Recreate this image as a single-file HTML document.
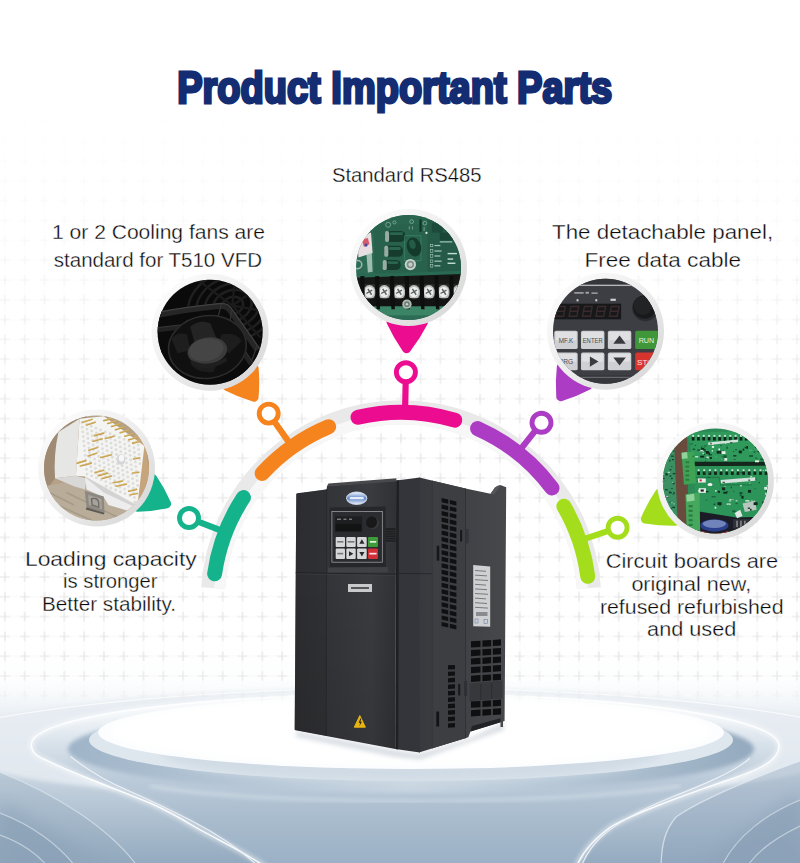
<!DOCTYPE html>
<html lang="en"><head><meta charset="utf-8"><title>Product Important Parts</title>
<style>
html,body{margin:0;padding:0;background:#fff;}
body{width:800px;height:863px;overflow:hidden;font-family:"Liberation Sans",sans-serif;}
svg{display:block;}
.lbl{font-family:"Liberation Sans",sans-serif;font-size:20.5px;fill:#0a0a0a;stroke:#ffffff;stroke-width:0.32;paint-order:fill stroke;}
.ttl{font-family:"Liberation Sans",sans-serif;font-weight:bold;fill:#132c72;stroke:#132c72;stroke-width:3;stroke-linejoin:miter;}
</style></head><body>
<svg width="800" height="863" viewBox="0 0 800 863">
<defs>
<pattern id="grid" x="-5" y="-7.1" width="19.8" height="19.8" patternUnits="userSpaceOnUse">
<path d="M9.9 0V19.8M0 9.9H19.8" stroke="#f9f9f9" stroke-width="1" fill="none"/>
<path d="M9.9 5.1V14.7M5.1 9.9H14.7" stroke="#e5e5e5" stroke-width="1.2" fill="none"/>
</pattern>
<linearGradient id="gfade" x1="0" y1="0" x2="0" y2="1">
<stop offset="0" stop-color="#fff" stop-opacity="0"/>
<stop offset="0.12" stop-color="#fff" stop-opacity="0"/>
<stop offset="0.29" stop-color="#fff" stop-opacity="0.3"/>
<stop offset="0.40" stop-color="#fff" stop-opacity="0.7"/>
<stop offset="0.50" stop-color="#fff" stop-opacity="1"/>
<stop offset="0.775" stop-color="#fff" stop-opacity="1"/>
<stop offset="0.797" stop-color="#fff" stop-opacity="0.75"/>
<stop offset="0.818" stop-color="#fff" stop-opacity="0"/>
</linearGradient>
<mask id="gmask"><rect width="800" height="863" fill="url(#gfade)"/></mask>
<linearGradient id="floor" x1="0" y1="0" x2="0" y2="1">
<stop offset="0" stop-color="#ffffff" stop-opacity="0"/>
<stop offset="0.18" stop-color="#eef2f6"/>
<stop offset="0.45" stop-color="#cfdae5"/>
<stop offset="0.75" stop-color="#a9b9c9"/>
<stop offset="1" stop-color="#8ea2b6"/>
</linearGradient>
<radialGradient id="plat" cx="0.5" cy="0.5" r="0.5">
<stop offset="0" stop-color="#fff" stop-opacity="1"/>
<stop offset="0.7" stop-color="#fff" stop-opacity="0.97"/>
<stop offset="1" stop-color="#fff" stop-opacity="0.75"/>
</radialGradient>
<filter id="b2"><feGaussianBlur stdDeviation="2"/></filter>
<filter id="b4"><feGaussianBlur stdDeviation="4"/></filter>
<filter id="b8"><feGaussianBlur stdDeviation="8"/></filter>
<linearGradient id="ring" x1="0" y1="0" x2="1" y2="1">
<stop offset="0.1" stop-color="#fcfcfc"/>
<stop offset="0.5" stop-color="#ededed"/>
<stop offset="0.95" stop-color="#d6d6d6"/>
</linearGradient>

</defs>
<rect width="800" height="863" fill="#fff"/>
<defs>
<linearGradient id="flbase" x1="0" y1="0" x2="0" y2="1">
<stop offset="0" stop-color="#f4f7fa" stop-opacity="0"/>
<stop offset="0.17" stop-color="#f4f7fa" stop-opacity="0.15"/>
<stop offset="0.26" stop-color="#f1f5f8" stop-opacity="0.7"/>
<stop offset="0.33" stop-color="#eaeff4"/>
<stop offset="0.48" stop-color="#dae3eb"/>
<stop offset="0.70" stop-color="#bccbd9"/>
<stop offset="1" stop-color="#94aabf"/>
</linearGradient>
<linearGradient id="flin" x1="0" y1="0" x2="0" y2="1">
<stop offset="0" stop-color="#f9fbfc"/>
<stop offset="0.14" stop-color="#eff3f7"/>
<stop offset="0.30" stop-color="#d6e0e9"/>
<stop offset="0.48" stop-color="#bccbda"/>
<stop offset="0.70" stop-color="#a9bccd"/>
<stop offset="1" stop-color="#99afc4"/>
</linearGradient>
<linearGradient id="flband" x1="0" y1="0" x2="1" y2="0">
<stop offset="0" stop-color="#9fb4c8"/><stop offset="0.22" stop-color="#b3c4d4"/><stop offset="0.5" stop-color="#c8d5e1"/><stop offset="0.78" stop-color="#b0c2d2"/><stop offset="1" stop-color="#93a9be"/>
</linearGradient>
<clipPath id="flclip"><rect x="0" y="640" width="800" height="223"/></clipPath>
</defs>
<g clip-path="url(#flclip)">
<rect x="0" y="640" width="800" height="223" fill="url(#flbase)"/>
<path d="M0,800L110,863H0Z" fill="#8aa0b6" opacity="0.55" filter="url(#b8)"/>
<path d="M800,790L700,863H800Z" fill="#8aa0b6" opacity="0.55" filter="url(#b8)"/>
<ellipse cx="402" cy="745" rx="460" ry="57" fill="#e6ecf2" opacity="0.85" filter="url(#b2)"/>
<path d="M-10,719C120,696 280,688 402,688C530,688 690,696 810,719" fill="none" stroke="#fff" stroke-width="1.2" opacity="0.7"/>
<path d="M406,694C200,694 31.5,716 31.5,744.5C31.5,752 36,756 45,759.5C60,767 75,773 90,779C112,788 130,795 150,803C168,811 182,819 195,827C222,842 248,854 270,870L575,870C582,851 595,838 612,826C640,811 680,797 725,781C755,771 779,762 779,746C779,716 612,694 406,694Z" fill="url(#flin)"/>
<path d="M406,694C200,694 31.5,716 31.5,744.5C31.5,752 36,756 45,759.5C60,767 75,773 90,779C112,788 130,795 150,803C168,811 182,819 195,827C222,842 248,854 270,870L575,870C582,851 595,838 612,826C640,811 680,797 725,781C755,771 779,762 779,746C779,716 612,694 406,694Z" fill="none" stroke="#ffffff" stroke-width="5" opacity="0.5" filter="url(#b2)"/>
<path d="M406,694C200,694 31.5,716 31.5,744.5C31.5,752 36,756 45,759.5C60,767 75,773 90,779C112,788 130,795 150,803C168,811 182,819 195,827C222,842 248,854 270,870L575,870C582,851 595,838 612,826C640,811 680,797 725,781C755,771 779,762 779,746C779,716 612,694 406,694Z" fill="none" stroke="#ffffff" stroke-width="1.4" opacity="0.9"/>
<ellipse cx="411" cy="749" rx="343" ry="44" fill="url(#flband)" filter="url(#b2)"/>
<path d="M70.5,756.5C90,772 110,783 129,791C150,800 172,811 192,821C215,833 240,848 262,870" fill="none" stroke="#eef3f7" stroke-width="1.2" opacity="0.9"/>
<path d="M750,758C735,772 700,786 672,797C640,810 615,824 600,838C590,848 584,858 580,870" fill="none" stroke="#eef3f7" stroke-width="1.2" opacity="0.9"/>
<ellipse cx="411" cy="740" rx="322" ry="41" fill="#dfe7ee"/>
<ellipse cx="411" cy="752" rx="250" ry="30" fill="#d0dbe5" filter="url(#b4)"/>
<ellipse cx="411" cy="732.5" rx="313" ry="36.5" fill="#fcfdfe"/>
<ellipse cx="411" cy="731" rx="300" ry="33" fill="#ffffff" filter="url(#b2)"/>
<path d="M150,786C260,806 560,806 680,786" fill="none" stroke="#e4ecf2" stroke-width="2" opacity="0.8" filter="url(#b2)"/>
<path d="M800,761C760,775 700,800 676,817C665,830 661,845 661,870L800,870Z" fill="#8ea4ba" opacity="0.38"/>
<path d="M800,761C760,775 700,800 676,817C665,830 661,845 661,870" fill="none" stroke="#e6edf3" stroke-width="1.3" opacity="0.7"/>
<path d="M800,800C770,812 735,835 720,870L800,870Z" fill="#889eb5" opacity="0.4"/>
<path d="M800,800C770,812 735,835 720,870M800,826C775,838 755,852 745,870" fill="none" stroke="#d5e0ea" stroke-width="1.2" opacity="0.7"/>
<path d="M0,772C50,792 110,826 140,870L0,870Z" fill="#8ea4ba" opacity="0.3"/>
<path d="M0,772C50,792 110,826 140,870" fill="none" stroke="#e6edf3" stroke-width="1.2" opacity="0.6"/>
<path d="M0,813C30,824 60,845 78,870L0,870Z" fill="#889eb5" opacity="0.4"/>
<path d="M0,813C30,824 60,845 78,870M0,835C20,842 40,855 50,870" fill="none" stroke="#d5e0ea" stroke-width="1.2" opacity="0.7"/>
</g>
<rect width="800" height="863" fill="url(#grid)" mask="url(#gmask)"/>
<path d="M213.11,588.12A188.30,188.30 0 0 1 588.89,588.12" fill="none" stroke="#e9e9e9" stroke-width="24" stroke-linecap="butt"/>
<path d="M219.60,588.55A181.80,181.80 0 0 1 582.40,588.55" fill="none" stroke="#f7f7f7" stroke-width="11" stroke-linecap="butt"/>
<path d="M214.63,573.74A188.30,188.30 0 0 1 243.44,497.49" fill="none" stroke="#14b38b" stroke-width="15" stroke-linecap="round"/>
<path d="M197.39,521.27L225.55,532.24" stroke="#14b38b" stroke-width="6.2" fill="none"/>
<circle cx="189.00" cy="518.00" r="9.5" fill="#fff" stroke="#14b38b" stroke-width="4.9"/>
<path d="M136.59,488.45L137.83,507.26Q151.48,506.93 166.59,503.76Q160.29,489.66 152.54,478.41Z" fill="#14b38b" stroke="#14b38b" stroke-width="9.0" stroke-linejoin="round"/>
<path d="M262.17,473.39A188.30,188.30 0 0 1 328.64,426.76" fill="none" stroke="#f5841f" stroke-width="15" stroke-linecap="round"/>
<path d="M273.90,420.95L292.25,446.88" stroke="#f5841f" stroke-width="6.2" fill="none"/>
<circle cx="268.70" cy="413.60" r="9.5" fill="#fff" stroke="#f5841f" stroke-width="4.9"/>
<path d="M235.30,369.48L227.29,386.55Q239.36,392.80 254.08,397.27Q255.42,381.95 254.12,368.42Z" fill="#f5841f" stroke="#f5841f" stroke-width="9.0" stroke-linejoin="round"/>
<path d="M358.00,417.28A188.30,188.30 0 0 1 454.80,420.15" fill="none" stroke="#ec0c8f" stroke-width="15" stroke-linecap="round"/>
<path d="M405.71,381.25L405.04,412.34" stroke="#ec0c8f" stroke-width="6.2" fill="none"/>
<circle cx="405.90" cy="372.25" r="9.5" fill="#fff" stroke="#ec0c8f" stroke-width="4.9"/>
<path d="M407.40,312.39L390.98,321.64Q397.14,335.13 406.51,348.70Q416.53,335.61 423.35,322.43Z" fill="#ec0c8f" stroke="#ec0c8f" stroke-width="9.0" stroke-linejoin="round"/>
<path d="M477.59,428.58A188.30,188.30 0 0 1 551.97,488.07" fill="none" stroke="#ad3cc4" stroke-width="15" stroke-linecap="round"/>
<path d="M535.92,429.86L517.75,452.86" stroke="#ad3cc4" stroke-width="6.2" fill="none"/>
<circle cx="541.50" cy="422.80" r="9.5" fill="#fff" stroke="#ad3cc4" stroke-width="4.9"/>
<path d="M580.11,368.35L561.29,367.18Q559.70,381.03 560.74,396.68Q575.70,391.97 588.02,385.46Z" fill="#ad3cc4" stroke="#ad3cc4" stroke-width="9.0" stroke-linejoin="round"/>
<path d="M563.91,506.17A188.30,188.30 0 0 1 587.73,576.35" fill="none" stroke="#a3dd1c" stroke-width="15" stroke-linecap="round"/>
<path d="M609.07,530.67L579.49,540.61" stroke="#a3dd1c" stroke-width="6.2" fill="none"/>
<circle cx="617.60" cy="527.80" r="9.5" fill="#fff" stroke="#a3dd1c" stroke-width="4.9"/>
<path d="M675.86,502.48L659.65,492.86Q651.74,504.55 645.35,519.05Q660.99,521.59 675.10,521.31Z" fill="#a3dd1c" stroke="#a3dd1c" stroke-width="9.0" stroke-linejoin="round"/>
<circle cx="96.5" cy="468" r="58.5" fill="url(#ring)"/>
<clipPath id="cp0"><circle cx="96.5" cy="468" r="52.5"/></clipPath>
<circle cx="210.1" cy="332.2" r="58.5" fill="url(#ring)"/>
<clipPath id="cp1"><circle cx="210.1" cy="332.2" r="52.5"/></clipPath>
<circle cx="408.5" cy="267.4" r="58.5" fill="url(#ring)"/>
<clipPath id="cp2"><circle cx="408.5" cy="267.4" r="52.5"/></clipPath>
<circle cx="605.5" cy="331.2" r="58.5" fill="url(#ring)"/>
<clipPath id="cp3"><circle cx="605.5" cy="331.2" r="52.5"/></clipPath>
<circle cx="715.4" cy="481" r="58.5" fill="url(#ring)"/>
<clipPath id="cp4"><circle cx="715.4" cy="481" r="52.5"/></clipPath>
<g clip-path="url(#cp0)"><g transform="translate(35,405) scale(0.15625)">
<rect x="0" y="0" width="800" height="800" fill="#b4a188"/>
<path d="M0,0H330V200L60,560L0,600Z" fill="#9f8a73"/>
<path d="M60,520L330,470L800,700V800H60Z" fill="#b9ad9a"/>
<path d="M100,620L500,800M60,700L300,800M200,560L700,800M90,560L250,640" stroke="#9a8f7f" stroke-width="10" fill="none" opacity="0.6"/>
<path d="M640,60L800,200V640L640,620Z" fill="#c6a57c"/>
<path d="M690,100L760,600M730,120L790,500" stroke="#b08c62" stroke-width="8" opacity="0.7"/>
<path d="M150,172L285,88L262,452L128,468Q118,320 150,172Z" fill="#e6e6e4"/>
<path d="M128,468L262,452L330,470L320,540L250,520Z" fill="#d8d8d6"/>
<path d="M285,88L440,72L700,262L655,645L320,458L262,452Z" fill="#f4f4f2"/>
<path d="M320,458L655,645L640,690L470,640L440,590L330,540Z" fill="#ecedec"/>
<path d="M320,458L330,470L440,560L655,660L655,645Z" fill="#d2d3d2"/>
<g fill="#dcdcda"><circle cx="300" cy="112" r="9"/><circle cx="330" cy="124" r="9"/><circle cx="360" cy="136" r="9"/><circle cx="390" cy="148" r="9"/><circle cx="420" cy="160" r="9"/><circle cx="450" cy="172" r="9"/><circle cx="480" cy="184" r="9"/><circle cx="510" cy="196" r="9"/><circle cx="540" cy="208" r="9"/><circle cx="570" cy="220" r="9"/><circle cx="600" cy="232" r="9"/><circle cx="630" cy="244" r="9"/><circle cx="660" cy="256" r="9"/><circle cx="303" cy="142" r="9"/><circle cx="333" cy="154" r="9"/><circle cx="363" cy="166" r="9"/><circle cx="393" cy="178" r="9"/><circle cx="423" cy="190" r="9"/><circle cx="453" cy="202" r="9"/><circle cx="483" cy="214" r="9"/><circle cx="513" cy="226" r="9"/><circle cx="543" cy="238" r="9"/><circle cx="573" cy="250" r="9"/><circle cx="603" cy="262" r="9"/><circle cx="633" cy="274" r="9"/><circle cx="663" cy="286" r="9"/><circle cx="306" cy="172" r="9"/><circle cx="336" cy="184" r="9"/><circle cx="366" cy="196" r="9"/><circle cx="396" cy="208" r="9"/><circle cx="426" cy="220" r="9"/><circle cx="456" cy="232" r="9"/><circle cx="486" cy="244" r="9"/><circle cx="516" cy="256" r="9"/><circle cx="546" cy="268" r="9"/><circle cx="576" cy="280" r="9"/><circle cx="606" cy="292" r="9"/><circle cx="636" cy="304" r="9"/><circle cx="666" cy="316" r="9"/><circle cx="309" cy="202" r="9"/><circle cx="339" cy="214" r="9"/><circle cx="369" cy="226" r="9"/><circle cx="399" cy="238" r="9"/><circle cx="429" cy="250" r="9"/><circle cx="459" cy="262" r="9"/><circle cx="489" cy="274" r="9"/><circle cx="519" cy="286" r="9"/><circle cx="549" cy="298" r="9"/><circle cx="579" cy="310" r="9"/><circle cx="609" cy="322" r="9"/><circle cx="639" cy="334" r="9"/><circle cx="669" cy="346" r="9"/><circle cx="312" cy="232" r="9"/><circle cx="342" cy="244" r="9"/><circle cx="372" cy="256" r="9"/><circle cx="402" cy="268" r="9"/><circle cx="432" cy="280" r="9"/><circle cx="462" cy="292" r="9"/><circle cx="492" cy="304" r="9"/><circle cx="522" cy="316" r="9"/><circle cx="552" cy="328" r="9"/><circle cx="582" cy="340" r="9"/><circle cx="612" cy="352" r="9"/><circle cx="642" cy="364" r="9"/><circle cx="672" cy="376" r="9"/><circle cx="315" cy="262" r="9"/><circle cx="345" cy="274" r="9"/><circle cx="375" cy="286" r="9"/><circle cx="405" cy="298" r="9"/><circle cx="435" cy="310" r="9"/><circle cx="465" cy="322" r="9"/><circle cx="495" cy="334" r="9"/><circle cx="525" cy="346" r="9"/><circle cx="555" cy="358" r="9"/><circle cx="585" cy="370" r="9"/><circle cx="615" cy="382" r="9"/><circle cx="645" cy="394" r="9"/><circle cx="318" cy="292" r="9"/><circle cx="348" cy="304" r="9"/><circle cx="378" cy="316" r="9"/><circle cx="408" cy="328" r="9"/><circle cx="438" cy="340" r="9"/><circle cx="468" cy="352" r="9"/><circle cx="498" cy="364" r="9"/><circle cx="528" cy="376" r="9"/><circle cx="558" cy="388" r="9"/><circle cx="588" cy="400" r="9"/><circle cx="618" cy="412" r="9"/><circle cx="648" cy="424" r="9"/><circle cx="321" cy="322" r="9"/><circle cx="351" cy="334" r="9"/><circle cx="381" cy="346" r="9"/><circle cx="411" cy="358" r="9"/><circle cx="441" cy="370" r="9"/><circle cx="471" cy="382" r="9"/><circle cx="501" cy="394" r="9"/><circle cx="531" cy="406" r="9"/><circle cx="561" cy="418" r="9"/><circle cx="591" cy="430" r="9"/><circle cx="621" cy="442" r="9"/><circle cx="651" cy="454" r="9"/><circle cx="324" cy="352" r="9"/><circle cx="354" cy="364" r="9"/><circle cx="384" cy="376" r="9"/><circle cx="414" cy="388" r="9"/><circle cx="444" cy="400" r="9"/><circle cx="474" cy="412" r="9"/><circle cx="504" cy="424" r="9"/><circle cx="534" cy="436" r="9"/><circle cx="564" cy="448" r="9"/><circle cx="594" cy="460" r="9"/><circle cx="624" cy="472" r="9"/><circle cx="654" cy="484" r="9"/><circle cx="327" cy="382" r="9"/><circle cx="357" cy="394" r="9"/><circle cx="387" cy="406" r="9"/><circle cx="417" cy="418" r="9"/><circle cx="447" cy="430" r="9"/><circle cx="477" cy="442" r="9"/><circle cx="507" cy="454" r="9"/><circle cx="537" cy="466" r="9"/><circle cx="567" cy="478" r="9"/><circle cx="597" cy="490" r="9"/><circle cx="627" cy="502" r="9"/><circle cx="657" cy="514" r="9"/><circle cx="330" cy="412" r="9"/><circle cx="360" cy="424" r="9"/><circle cx="390" cy="436" r="9"/><circle cx="420" cy="448" r="9"/><circle cx="450" cy="460" r="9"/><circle cx="480" cy="472" r="9"/><circle cx="510" cy="484" r="9"/><circle cx="540" cy="496" r="9"/><circle cx="570" cy="508" r="9"/><circle cx="600" cy="520" r="9"/><circle cx="630" cy="532" r="9"/><circle cx="333" cy="442" r="9"/><circle cx="363" cy="454" r="9"/><circle cx="393" cy="466" r="9"/><circle cx="423" cy="478" r="9"/><circle cx="453" cy="490" r="9"/><circle cx="483" cy="502" r="9"/><circle cx="513" cy="514" r="9"/><circle cx="543" cy="526" r="9"/><circle cx="573" cy="538" r="9"/><circle cx="603" cy="550" r="9"/><circle cx="633" cy="562" r="9"/><circle cx="456" cy="520" r="9"/><circle cx="486" cy="532" r="9"/><circle cx="516" cy="544" r="9"/><circle cx="546" cy="556" r="9"/><circle cx="576" cy="568" r="9"/><circle cx="606" cy="580" r="9"/><circle cx="636" cy="592" r="9"/><circle cx="639" cy="622" r="9"/></g>
<ellipse cx="550" cy="348" rx="27" ry="34" fill="#d3d4d6"/><ellipse cx="553" cy="340" rx="17" ry="22" fill="#f7f7f7"/>
<g stroke="#c29a45" stroke-width="10" stroke-linecap="round"><path d="M305,110L365,92"/><path d="M330,128L385,110"/><path d="M440,100L490,88"/><path d="M465,118L520,104"/><path d="M490,138L545,122"/><path d="M515,158L570,142"/><path d="M545,178L600,162"/><path d="M575,200L630,184"/><path d="M600,222L655,208"/><path d="M625,244L670,234"/><path d="M380,196L440,180"/><path d="M372,232L430,216"/><path d="M450,214L505,200"/><path d="M345,290L400,272"/><path d="M340,326L395,308"/><path d="M270,372L325,356"/><path d="M290,390L360,372"/><path d="M420,336L490,318"/><path d="M385,432L440,418"/><path d="M405,452L465,436"/><path d="M430,470L490,454"/><path d="M500,498L560,486"/><path d="M520,520L585,506"/><path d="M600,552L650,540"/><path d="M610,575L655,566"/><path d="M630,345L670,338"/><path d="M625,435L665,430"/></g>
<g stroke="#e9d28e" stroke-width="3" stroke-linecap="round"><path d="M305,107L365,89"/><path d="M330,125L385,107"/><path d="M440,97L490,85"/><path d="M465,115L520,101"/><path d="M490,135L545,119"/><path d="M515,155L570,139"/><path d="M545,175L600,159"/><path d="M575,197L630,181"/><path d="M600,219L655,205"/><path d="M625,241L670,231"/><path d="M380,193L440,177"/><path d="M372,229L430,213"/><path d="M450,211L505,197"/><path d="M345,287L400,269"/><path d="M340,323L395,305"/><path d="M270,369L325,353"/><path d="M290,387L360,369"/><path d="M420,333L490,315"/><path d="M385,429L440,415"/><path d="M405,449L465,433"/><path d="M430,467L490,451"/><path d="M500,495L560,483"/><path d="M520,517L585,503"/><path d="M600,549L650,537"/><path d="M610,572L655,563"/><path d="M630,342L670,335"/><path d="M625,432L665,427"/></g>
<path d="M318,548L440,585L445,690L330,655Z" fill="#8d8982"/>
<path d="M340,575L425,602L428,668L345,640Z" fill="#a7a39b"/>
<path d="M362,600Q400,590 408,625L408,655L365,640Z" fill="none" stroke="#6e6a64" stroke-width="9"/>
<path d="M330,655L445,690L440,700L325,668Z" fill="#5e5a54"/>
</g></g>
<g clip-path="url(#cp1)"><g transform="translate(148,272) scale(0.15625)">
<rect width="800" height="800" fill="#0c0c0c"/>
<g fill="none" stroke="#2b2b2b" stroke-width="16">
<ellipse cx="540" cy="215" rx="70" ry="55" transform="rotate(-18 540 215)"/>
<ellipse cx="540" cy="215" rx="125" ry="98" transform="rotate(-18 540 215)"/>
<ellipse cx="540" cy="215" rx="180" ry="140" transform="rotate(-18 540 215)"/>
<ellipse cx="540" cy="215" rx="235" ry="183" transform="rotate(-18 540 215)"/>
<ellipse cx="540" cy="215" rx="290" ry="226" transform="rotate(-18 540 215)"/>
</g>
<path d="M540,215L760,60M540,215L800,260M540,215L330,60M540,215L560,0M540,215L720,420" stroke="#262626" stroke-width="14"/>
<rect x="0" y="0" width="800" height="800" fill="#0a0a0a" opacity="0.35"/>
<path d="M60,255Q260,215 470,195Q520,195 540,235L700,470L720,640L560,700L300,700L80,520Z" fill="#0b0b0b"/>
<path d="M40,280Q260,236 466,217Q508,217 527,250L700,500" fill="none" stroke="#262626" stroke-width="36"/>
<path d="M40,262Q260,220 468,201Q517,201 537,238L715,490" fill="none" stroke="#424242" stroke-width="7"/>
<path d="M50,372Q250,345 440,335Q492,337 512,365L660,590" fill="none" stroke="#222222" stroke-width="30"/>
<path d="M50,357Q250,330 440,320Q500,322 520,350L672,580" fill="none" stroke="#3a3a3a" stroke-width="6"/>
<path d="M470,203L440,320M537,240L520,350M700,465L665,565" stroke="#333" stroke-width="8"/>
<ellipse cx="380" cy="480" rx="255" ry="205" fill="#101010" transform="rotate(-8 380 480)"/>
<ellipse cx="380" cy="480" rx="250" ry="200" fill="none" stroke="#2c2c2c" stroke-width="10" transform="rotate(-8 380 480)"/>
<path d="M270,350Q330,300 400,330L440,430L300,460Z" fill="#242424"/>
<path d="M470,400Q560,380 600,440L520,520L450,470Z" fill="#1d1d1d"/>
<path d="M150,430Q180,380 250,400L270,500L190,520Z" fill="#1e1e1e"/>
<path d="M280,600Q330,650 420,640L440,580L300,560Z" fill="#1c1c1c"/>
<ellipse cx="380" cy="505" rx="128" ry="86" fill="#3b3b3b" transform="rotate(-10 380 505)"/>
<ellipse cx="372" cy="498" rx="112" ry="72" fill="#454545" transform="rotate(-10 372 498)"/>
<path d="M270,560Q380,620 500,545L505,570Q390,650 275,590Z" fill="#1f1f1f"/>
</g></g>
<g clip-path="url(#cp2)"><g transform="translate(346,206) scale(0.15625)">
<rect width="800" height="800" fill="#2d6b55"/>
<rect x="0" y="0" width="800" height="180" fill="#2a6550"/>
<path d="M180,120H520V430H180Z" fill="#28624d"/>
<path d="M520,90H800V430H520Z" fill="#245a47"/>
<path d="M70,200L160,170L170,300L80,330Z" fill="#e9dfe2"/>
<path d="M100,215L140,205L150,245L115,260Z" fill="#d85a6a"/><circle cx="128" cy="250" r="10" fill="#3b4fa8"/>
<path d="M130,300L165,290L170,420L140,425Z" fill="#cfe0d8" opacity="0.7"/>
<circle cx="75" cy="375" r="26" fill="none" stroke="#9fb8ae" stroke-width="10"/>
<rect x="250" y="160" width="130" height="70" rx="30" fill="#163c30"/>
<rect x="250" y="160" width="26" height="70" rx="12" fill="#b9c8c1" opacity="0.8"/>
<rect x="280" y="168" width="85" height="18" rx="9" fill="#2f6f59" opacity="0.8"/>
<rect x="245" y="255" width="120" height="70" rx="30" fill="#163c30"/>
<rect x="245" y="255" width="26" height="70" rx="12" fill="#b9c8c1" opacity="0.8"/>
<rect x="275" y="263" width="75" height="18" rx="9" fill="#2f6f59" opacity="0.8"/>
<rect x="235" y="345" width="115" height="65" rx="30" fill="#163c30"/>
<rect x="235" y="345" width="26" height="65" rx="12" fill="#b9c8c1" opacity="0.8"/>
<rect x="265" y="353" width="70" height="18" rx="9" fill="#2f6f59" opacity="0.8"/>
<path d="M375,190H480V350H375Z" fill="none" stroke="#3c8068" stroke-width="5"/>
<ellipse cx="435" cy="262" rx="45" ry="62" fill="#143a2e" transform="rotate(-15 435 262)"/>
<ellipse cx="425" cy="245" rx="20" ry="30" fill="#2b6b55" opacity="0.7" transform="rotate(-15 425 245)"/>
<circle cx="412" cy="375" r="36" fill="#c9d3cf"/><circle cx="412" cy="375" r="24" fill="#7f908a"/><circle cx="412" cy="375" r="13" fill="#c4cfca"/>
<g fill="#bfe0d2">
<rect x="540" y="245" width="16" height="16" fill="none" stroke="#bfe0d2" stroke-width="3"/><rect x="566" y="249" width="38" height="8" opacity="0.8"/>
<rect x="540" y="280" width="16" height="16" fill="none" stroke="#bfe0d2" stroke-width="3"/><rect x="566" y="284" width="46" height="8" opacity="0.8"/>
<rect x="540" y="312" width="16" height="16" fill="none" stroke="#bfe0d2" stroke-width="3"/><rect x="566" y="316" width="38" height="8" opacity="0.8"/>
<rect x="540" y="345" width="16" height="16" fill="none" stroke="#bfe0d2" stroke-width="3"/><rect x="566" y="349" width="46" height="8" opacity="0.8"/>
<rect x="540" y="375" width="16" height="16" fill="none" stroke="#bfe0d2" stroke-width="3"/><rect x="566" y="379" width="38" height="8" opacity="0.8"/>
<rect x="650" y="300" width="60" height="9"/><rect x="650" y="335" width="36" height="9"/><rect x="650" y="362" width="50" height="9"/>
<rect x="600" y="225" width="80" height="9" opacity="0.7"/>
</g>
<g fill="none" stroke="#9cc7b6" stroke-width="5" opacity="0.8"><circle cx="270" cy="120" r="16"/><circle cx="310" cy="105" r="10"/><circle cx="420" cy="100" r="12"/><circle cx="505" cy="110" r="12"/><path d="M405,130V150M425,130V150M500,135V160"/></g>
<rect x="470" y="85" width="14" height="80" fill="#123329"/><rect x="550" y="110" width="70" height="60" fill="#1c4b3c"/><circle cx="515" cy="172" r="7" fill="#d9efe6"/>
<rect x="600" y="170" width="120" height="50" fill="#1a4638"/>
<path d="M0,455L800,425V640L0,645Z" fill="#161816"/>
<path d="M0,440L800,412V432L0,462Z" fill="#2a6a54"/>
<rect x="0" y="640" width="800" height="70" fill="#3b8466"/>
<rect x="0" y="700" width="800" height="100" fill="#2c6c56"/>
<rect x="112" y="500" width="76" height="95" fill="#2a2c2a"/>
<ellipse cx="150" cy="552" rx="40" ry="46" fill="#b9bdba"/><ellipse cx="150" cy="550" rx="29" ry="34" fill="#eceeed"/>
<path d="M130,560L168,538M140,530L164,568" stroke="#5d625f" stroke-width="9"/>
<rect x="207" y="500" width="76" height="95" fill="#2a2c2a"/>
<ellipse cx="245" cy="552" rx="40" ry="46" fill="#b9bdba"/><ellipse cx="245" cy="550" rx="29" ry="34" fill="#eceeed"/>
<path d="M225,560L263,538M235,530L259,568" stroke="#5d625f" stroke-width="9"/>
<rect x="302" y="500" width="76" height="95" fill="#2a2c2a"/>
<ellipse cx="340" cy="552" rx="40" ry="46" fill="#b9bdba"/><ellipse cx="340" cy="550" rx="29" ry="34" fill="#eceeed"/>
<path d="M320,560L358,538M330,530L354,568" stroke="#5d625f" stroke-width="9"/>
<rect x="397" y="500" width="76" height="95" fill="#2a2c2a"/>
<ellipse cx="435" cy="552" rx="40" ry="46" fill="#b9bdba"/><ellipse cx="435" cy="550" rx="29" ry="34" fill="#eceeed"/>
<path d="M415,560L453,538M425,530L449,568" stroke="#5d625f" stroke-width="9"/>
<rect x="492" y="500" width="76" height="95" fill="#2a2c2a"/>
<ellipse cx="530" cy="552" rx="40" ry="46" fill="#b9bdba"/><ellipse cx="530" cy="550" rx="29" ry="34" fill="#eceeed"/>
<path d="M510,560L548,538M520,530L544,568" stroke="#5d625f" stroke-width="9"/>
<rect x="587" y="500" width="76" height="95" fill="#2a2c2a"/>
<ellipse cx="625" cy="552" rx="40" ry="46" fill="#b9bdba"/><ellipse cx="625" cy="550" rx="29" ry="34" fill="#eceeed"/>
<path d="M605,560L643,538M615,530L639,568" stroke="#5d625f" stroke-width="9"/>
<rect x="682" y="500" width="76" height="95" fill="#2a2c2a"/>
<ellipse cx="720" cy="552" rx="40" ry="46" fill="#b9bdba"/><ellipse cx="720" cy="550" rx="29" ry="34" fill="#eceeed"/>
<path d="M700,560L738,538M710,530L734,568" stroke="#5d625f" stroke-width="9"/>
<path d="M91,450L117,448L121,640L95,640Z" fill="#0d0e0d"/>
<path d="M186,450L212,448L216,640L190,640Z" fill="#0d0e0d"/>
<path d="M281,450L307,448L311,640L285,640Z" fill="#0d0e0d"/>
<path d="M376,450L402,448L406,640L380,640Z" fill="#0d0e0d"/>
<path d="M471,450L497,448L501,640L475,640Z" fill="#0d0e0d"/>
<path d="M566,450L592,448L596,640L570,640Z" fill="#0d0e0d"/>
<path d="M661,450L687,448L691,640L665,640Z" fill="#0d0e0d"/>
<path d="M756,450L782,448L786,640L760,640Z" fill="#0d0e0d"/>
<rect x="0" y="590" width="800" height="52" fill="#121312" opacity="0.85"/>
<path d="M97,600L119,600L123,660L101,660Z" fill="#0d0e0d"/>
<path d="M192,600L214,600L218,660L196,660Z" fill="#0d0e0d"/>
<path d="M287,600L309,600L313,660L291,660Z" fill="#0d0e0d"/>
<path d="M382,600L404,600L408,660L386,660Z" fill="#0d0e0d"/>
<path d="M477,600L499,600L503,660L481,660Z" fill="#0d0e0d"/>
<path d="M572,600L594,600L598,660L576,660Z" fill="#0d0e0d"/>
<path d="M667,600L689,600L693,660L671,660Z" fill="#0d0e0d"/>
<path d="M762,600L784,600L788,660L766,660Z" fill="#0d0e0d"/>
<circle cx="390" cy="628" r="30" fill="#aebbb5"/><circle cx="390" cy="628" r="18" fill="#6d7d76"/><circle cx="390" cy="628" r="8" fill="#c5d0cb"/>
</g></g>
<g clip-path="url(#cp3)"><g transform="translate(543,269) scale(0.15625)">
<rect width="800" height="800" fill="#3d3e43"/>
<rect x="0" y="0" width="800" height="105" fill="#35363a"/>
<rect x="0" y="100" width="800" height="9" fill="#b5b6b8"/>
<rect x="0" y="680" width="800" height="120" fill="#36373b"/>
<rect x="0" y="690" width="800" height="7" fill="#8e8f92" opacity="0.6"/>
<rect x="60" y="222" width="440" height="100" fill="#17181a"/>
<g fill="none" stroke="#3a2a2c" stroke-width="9">
<path d="M93,240H143L137,270H87ZM87,270L81,302H131L137,270"/>
<path d="M179,240H229L223,270H173ZM173,270L167,302H217L223,270"/>
<path d="M265,240H315L309,270H259ZM259,270L253,302H303L309,270"/>
<path d="M351,240H401L395,270H345ZM345,270L339,302H389L395,270"/>
<path d="M437,240H487L481,270H431ZM431,270L425,302H475L481,270"/>
</g>
<g fill="#cfd0d2"><rect x="215" y="193" width="12" height="14"/><rect x="335" y="193" width="12" height="14"/><rect x="432" y="190" width="34" height="14"/><rect x="200" y="148" width="60" height="10" opacity="0.7"/><rect x="272" y="146" width="22" height="12" opacity="0.7"/><rect x="310" y="150" width="40" height="9" opacity="0.7"/></g>
<circle cx="655" cy="250" r="84" fill="#2a2b2e"/><circle cx="650" cy="243" r="74" fill="#19191b"/><circle cx="640" cy="235" r="60" fill="#222325"/>
<rect x="72" y="395" width="150" height="117" rx="12" fill="#cfd0d3"/>
<rect x="80" y="403" width="134" height="53" rx="8" fill="#e3e4e6" opacity="0.8"/>
<rect x="243" y="395" width="150" height="117" rx="12" fill="#cfd0d3"/>
<rect x="251" y="403" width="134" height="53" rx="8" fill="#e3e4e6" opacity="0.8"/>
<rect x="415" y="395" width="150" height="117" rx="12" fill="#cfd0d3"/>
<rect x="423" y="403" width="134" height="53" rx="8" fill="#e3e4e6" opacity="0.8"/>
<rect x="590" y="395" width="150" height="117" rx="12" fill="#3f9739"/>
<rect x="72" y="535" width="150" height="113" rx="12" fill="#cfd0d3"/>
<rect x="80" y="543" width="134" height="51" rx="8" fill="#e3e4e6" opacity="0.8"/>
<rect x="243" y="535" width="150" height="113" rx="12" fill="#cfd0d3"/>
<rect x="251" y="543" width="134" height="51" rx="8" fill="#e3e4e6" opacity="0.8"/>
<rect x="415" y="535" width="150" height="113" rx="12" fill="#cfd0d3"/>
<rect x="423" y="543" width="134" height="51" rx="8" fill="#e3e4e6" opacity="0.8"/>
<rect x="590" y="535" width="150" height="113" rx="12" fill="#d8342f"/>
<path d="M490,425L530,478H450Z M490,618L530,566H450Z M300,560L355,592L300,625Z" fill="#3a3b40"/>
<text x="147" y="472" font-family="Liberation Sans, sans-serif" font-size="44" fill="#4a4b50" text-anchor="middle" textLength="92" lengthAdjust="spacingAndGlyphs">MF.K</text>
<text x="318" y="472" font-family="Liberation Sans, sans-serif" font-size="44" fill="#4a4b50" text-anchor="middle" textLength="128" lengthAdjust="spacingAndGlyphs">ENTER</text>
<text x="147" y="610" font-family="Liberation Sans, sans-serif" font-size="44" fill="#4a4b50" text-anchor="middle" textLength="92" lengthAdjust="spacingAndGlyphs">PRG</text>
<text x="662" y="474" font-family="Liberation Sans, sans-serif" font-size="46" fill="#e4f3e2" text-anchor="middle" textLength="100" lengthAdjust="spacingAndGlyphs">RUN</text>
<text x="672" y="612" font-family="Liberation Sans, sans-serif" font-size="46" fill="#fbe3e1" text-anchor="middle" textLength="140" lengthAdjust="spacingAndGlyphs">STOP</text>
</g></g>
<g clip-path="url(#cp4)"><g transform="translate(655,416) scale(0.15625)">
<rect width="800" height="800" fill="#2b8a55"/>
<path d="M0,200L130,180L150,720L0,760Z" fill="#3a8f63"/>
<path d="M120,120L205,110L215,800L150,800Z" fill="#6a4a3c"/>
<path d="M215,105L800,95V300L240,300Z" fill="#2f9a5c"/>
<path d="M240,292L800,292L800,322L250,322Z" fill="#15261d"/>
<path d="M250,322L800,318V640L520,650L285,610L255,600Z" fill="#2d9459"/>
<path d="M255,392L410,392L420,440L620,440" fill="none" stroke="#1f7a48" stroke-width="8"/>
<path d="M270,610L520,650L800,640V800H250Z" fill="#1c1c26"/>
<ellipse cx="380" cy="700" rx="90" ry="40" fill="#2b3f8c"/><ellipse cx="380" cy="690" rx="75" ry="26" fill="#9fb0d8" opacity="0.6"/>
<path d="M300,735Q380,770 470,735L470,760Q380,800 300,760Z" fill="#c0323a" opacity="0.8"/>
<rect x="500" y="660" width="120" height="60" fill="#30303a"/><rect x="520" y="670" width="10" height="40" fill="#888"/><rect x="545" y="670" width="10" height="40" fill="#888"/><rect x="570" y="670" width="10" height="40" fill="#888"/>
<path d="M170,235L250,225L262,430L185,440Z" fill="#3fa255"/>
<path d="M195,500L285,490L290,800L205,800Z" fill="#46a85c"/>
<path d="M170,235L205,230L210,270L172,275Z" fill="#8fd39a"/>
<path d="M200,505L250,498L254,540L204,548Z" fill="#8fd39a"/>
<rect x="215" y="570" width="26" height="14" fill="#2d7a40"/>
<rect x="215" y="600" width="26" height="14" fill="#2d7a40"/>
<rect x="215" y="630" width="26" height="14" fill="#2d7a40"/>
<rect x="215" y="660" width="26" height="14" fill="#2d7a40"/>
<rect x="215" y="690" width="26" height="14" fill="#2d7a40"/>
<rect x="215" y="720" width="26" height="14" fill="#2d7a40"/>
<rect x="215" y="750" width="26" height="14" fill="#2d7a40"/>
<rect x="215" y="780" width="26" height="14" fill="#2d7a40"/>
<rect x="195" y="290" width="24" height="12" fill="#2d7a40"/>
<rect x="195" y="318" width="24" height="12" fill="#2d7a40"/>
<rect x="195" y="346" width="24" height="12" fill="#2d7a40"/>
<rect x="195" y="374" width="24" height="12" fill="#2d7a40"/>
<rect x="195" y="402" width="24" height="12" fill="#2d7a40"/>
<rect x="235" y="135" width="18" height="22" fill="#10241a"/><rect x="238" y="121" width="12" height="12" fill="#cfe6d8"/><rect x="269" y="135" width="18" height="22" fill="#10241a"/><rect x="272" y="121" width="12" height="12" fill="#cfe6d8"/><rect x="303" y="135" width="18" height="22" fill="#10241a"/><rect x="306" y="121" width="12" height="12" fill="#cfe6d8"/><rect x="337" y="135" width="18" height="22" fill="#10241a"/><rect x="340" y="121" width="12" height="12" fill="#cfe6d8"/><rect x="371" y="135" width="18" height="22" fill="#10241a"/><rect x="374" y="121" width="12" height="12" fill="#cfe6d8"/><rect x="405" y="135" width="18" height="22" fill="#10241a"/><rect x="408" y="121" width="12" height="12" fill="#cfe6d8"/><rect x="439" y="135" width="18" height="22" fill="#10241a"/><rect x="442" y="121" width="12" height="12" fill="#cfe6d8"/><rect x="473" y="135" width="18" height="22" fill="#10241a"/><rect x="476" y="121" width="12" height="12" fill="#cfe6d8"/><rect x="507" y="135" width="18" height="22" fill="#10241a"/><rect x="510" y="121" width="12" height="12" fill="#cfe6d8"/><rect x="541" y="135" width="18" height="22" fill="#10241a"/><rect x="544" y="121" width="12" height="12" fill="#cfe6d8"/><rect x="575" y="135" width="18" height="22" fill="#10241a"/><rect x="578" y="121" width="12" height="12" fill="#cfe6d8"/><rect x="609" y="135" width="18" height="22" fill="#10241a"/><rect x="612" y="121" width="12" height="12" fill="#cfe6d8"/><rect x="643" y="135" width="18" height="22" fill="#10241a"/><rect x="646" y="121" width="12" height="12" fill="#cfe6d8"/><rect x="677" y="135" width="18" height="22" fill="#10241a"/><rect x="680" y="121" width="12" height="12" fill="#cfe6d8"/><rect x="270" y="355" width="18" height="22" fill="#10241a"/><rect x="273" y="341" width="12" height="12" fill="#cfe6d8"/><rect x="306" y="355" width="18" height="22" fill="#10241a"/><rect x="309" y="341" width="12" height="12" fill="#cfe6d8"/><rect x="342" y="355" width="18" height="22" fill="#10241a"/><rect x="345" y="341" width="12" height="12" fill="#cfe6d8"/><rect x="378" y="355" width="18" height="22" fill="#10241a"/><rect x="381" y="341" width="12" height="12" fill="#cfe6d8"/><rect x="414" y="355" width="18" height="22" fill="#10241a"/><rect x="417" y="341" width="12" height="12" fill="#cfe6d8"/><rect x="450" y="355" width="18" height="22" fill="#10241a"/><rect x="453" y="341" width="12" height="12" fill="#cfe6d8"/><rect x="486" y="355" width="18" height="22" fill="#10241a"/><rect x="489" y="341" width="12" height="12" fill="#cfe6d8"/><rect x="522" y="355" width="18" height="22" fill="#10241a"/><rect x="525" y="341" width="12" height="12" fill="#cfe6d8"/><rect x="558" y="355" width="18" height="22" fill="#10241a"/><rect x="561" y="341" width="12" height="12" fill="#cfe6d8"/><rect x="594" y="355" width="18" height="22" fill="#10241a"/><rect x="597" y="341" width="12" height="12" fill="#cfe6d8"/><rect x="630" y="355" width="18" height="22" fill="#10241a"/><rect x="633" y="341" width="12" height="12" fill="#cfe6d8"/><rect x="666" y="355" width="18" height="22" fill="#10241a"/><rect x="669" y="341" width="12" height="12" fill="#cfe6d8"/><rect x="702" y="355" width="18" height="22" fill="#10241a"/><rect x="705" y="341" width="12" height="12" fill="#cfe6d8"/><rect x="738" y="355" width="18" height="22" fill="#10241a"/><rect x="741" y="341" width="12" height="12" fill="#cfe6d8"/>
<path d="M340,170L530,150L532,166L342,186Z" fill="#d6e2dc"/>
<path d="M420,410L640,392L642,414L422,432Z" fill="#d9e4df"/>
<path d="M560,560L640,540L650,600L575,615Z" fill="#b7c7bf"/>
<path d="M510,620L545,600L560,640L525,655Z" fill="#dfe8e4"/>
<rect x="561" y="209" width="10" height="12" fill="#0f2a1c"/><rect x="289" y="254" width="26" height="12" fill="#0f2a1c"/><rect x="301" y="473" width="10" height="8" fill="#0f2a1c"/><rect x="280" y="218" width="26" height="8" fill="#d9eee2"/><rect x="350" y="263" width="14" height="12" fill="#0f2a1c"/><rect x="329" y="260" width="14" height="12" fill="#e8f4ec"/><rect x="774" y="530" width="26" height="12" fill="#e8f4ec"/><rect x="536" y="221" width="20" height="18" fill="#0f2a1c"/><rect x="736" y="564" width="10" height="8" fill="#e8f4ec"/><rect x="754" y="492" width="26" height="12" fill="#0f2a1c"/><rect x="578" y="539" width="26" height="8" fill="#e8f4ec"/><rect x="325" y="224" width="20" height="18" fill="#0f2a1c"/><rect x="686" y="548" width="26" height="12" fill="#0f2a1c"/><rect x="402" y="479" width="14" height="12" fill="#0f2a1c"/><rect x="362" y="513" width="26" height="8" fill="#1b5a38"/><rect x="400" y="552" width="26" height="18" fill="#0f2a1c"/><rect x="515" y="556" width="14" height="8" fill="#1b5a38"/><rect x="314" y="212" width="10" height="12" fill="#0f2a1c"/><rect x="416" y="223" width="26" height="18" fill="#0f2a1c"/><rect x="608" y="594" width="10" height="12" fill="#0f2a1c"/><rect x="631" y="552" width="26" height="18" fill="#0f2a1c"/><rect x="640" y="197" width="26" height="8" fill="#0f2a1c"/><rect x="342" y="233" width="10" height="18" fill="#0f2a1c"/><rect x="384" y="475" width="10" height="8" fill="#e8f4ec"/><rect x="442" y="268" width="20" height="18" fill="#d9eee2"/><rect x="602" y="250" width="26" height="12" fill="#1b5a38"/><rect x="725" y="229" width="20" height="18" fill="#0f2a1c"/><rect x="501" y="251" width="20" height="8" fill="#0f2a1c"/><rect x="257" y="257" width="20" height="8" fill="#d9eee2"/><rect x="594" y="586" width="14" height="8" fill="#0f2a1c"/><rect x="640" y="284" width="26" height="12" fill="#e8f4ec"/><rect x="495" y="604" width="20" height="12" fill="#1b5a38"/><rect x="312" y="218" width="14" height="12" fill="#1b5a38"/><rect x="439" y="251" width="20" height="18" fill="#1b5a38"/><rect x="316" y="480" width="26" height="8" fill="#0f2a1c"/><rect x="674" y="271" width="26" height="12" fill="#1b5a38"/><rect x="316" y="282" width="10" height="8" fill="#0f2a1c"/><rect x="706" y="487" width="14" height="18" fill="#d9eee2"/><rect x="364" y="192" width="14" height="12" fill="#e8f4ec"/><rect x="429" y="457" width="20" height="18" fill="#0f2a1c"/><rect x="476" y="533" width="26" height="8" fill="#e8f4ec"/><rect x="759" y="243" width="14" height="18" fill="#e8f4ec"/><rect x="752" y="192" width="10" height="8" fill="#e8f4ec"/><rect x="406" y="208" width="10" height="12" fill="#e8f4ec"/><rect x="760" y="592" width="10" height="8" fill="#0f2a1c"/><rect x="425" y="225" width="26" height="18" fill="#e8f4ec"/><rect x="747" y="267" width="26" height="18" fill="#d9eee2"/><rect x="776" y="251" width="20" height="18" fill="#e8f4ec"/><rect x="437" y="485" width="26" height="12" fill="#0f2a1c"/><rect x="553" y="511" width="14" height="18" fill="#0f2a1c"/><rect x="540" y="489" width="20" height="8" fill="#0f2a1c"/><rect x="708" y="474" width="14" height="18" fill="#1b5a38"/><rect x="459" y="560" width="26" height="8" fill="#d9eee2"/><rect x="595" y="473" width="20" height="18" fill="#0f2a1c"/><rect x="699" y="454" width="20" height="18" fill="#d9eee2"/><rect x="295" y="204" width="20" height="12" fill="#0f2a1c"/><rect x="270" y="213" width="20" height="12" fill="#1b5a38"/><rect x="382" y="581" width="10" height="12" fill="#d9eee2"/><rect x="304" y="224" width="10" height="18" fill="#d9eee2"/><rect x="457" y="198" width="10" height="12" fill="#1b5a38"/><rect x="657" y="224" width="14" height="8" fill="#0f2a1c"/><rect x="395" y="223" width="20" height="18" fill="#0f2a1c"/><rect x="542" y="502" width="14" height="12" fill="#1b5a38"/><rect x="585" y="192" width="10" height="18" fill="#0f2a1c"/>
<rect x="69" y="512" width="18" height="12" fill="#163f2a"/>
<rect x="36" y="458" width="18" height="12" fill="#163f2a"/>
<rect x="89" y="483" width="12" height="12" fill="#163f2a"/>
<rect x="93" y="340" width="12" height="8" fill="#163f2a"/>
<rect x="111" y="681" width="18" height="8" fill="#163f2a"/>
<rect x="56" y="407" width="8" height="8" fill="#163f2a"/>
<rect x="14" y="550" width="12" height="12" fill="#163f2a"/>
<rect x="25" y="258" width="18" height="12" fill="#163f2a"/>
<rect x="116" y="489" width="12" height="8" fill="#163f2a"/>
<rect x="93" y="380" width="12" height="8" fill="#163f2a"/>
<rect x="25" y="367" width="8" height="12" fill="#d9eee2"/>
<rect x="51" y="398" width="12" height="8" fill="#163f2a"/>
<rect x="9" y="681" width="8" height="12" fill="#d9eee2"/>
<rect x="28" y="230" width="12" height="8" fill="#d9eee2"/>
<rect x="65" y="372" width="18" height="8" fill="#163f2a"/>
<rect x="36" y="488" width="8" height="12" fill="#163f2a"/>
<rect x="109" y="275" width="12" height="8" fill="#163f2a"/>
<rect x="55" y="241" width="12" height="8" fill="#d9eee2"/>
<rect x="15" y="529" width="8" height="12" fill="#163f2a"/>
<rect x="102" y="396" width="12" height="8" fill="#163f2a"/>
<rect x="41" y="600" width="18" height="8" fill="#163f2a"/>
<rect x="10" y="652" width="18" height="12" fill="#163f2a"/>
<rect x="98" y="588" width="8" height="8" fill="#163f2a"/>
<rect x="110" y="581" width="18" height="8" fill="#163f2a"/>
<rect x="15" y="245" width="8" height="12" fill="#163f2a"/>
<rect x="18" y="422" width="18" height="8" fill="#d9eee2"/>
<rect x="85" y="239" width="18" height="8" fill="#163f2a"/>
<rect x="67" y="365" width="12" height="8" fill="#163f2a"/>
<rect x="100" y="487" width="8" height="8" fill="#163f2a"/>
<rect x="100" y="607" width="12" height="8" fill="#d9eee2"/>
<rect x="113" y="365" width="18" height="8" fill="#163f2a"/>
<rect x="34" y="608" width="12" height="12" fill="#163f2a"/>
<rect x="113" y="425" width="12" height="12" fill="#163f2a"/>
<rect x="103" y="253" width="18" height="8" fill="#163f2a"/>
<rect x="14" y="537" width="12" height="12" fill="#163f2a"/>
<rect x="88" y="610" width="12" height="8" fill="#163f2a"/>
<rect x="6" y="476" width="12" height="12" fill="#163f2a"/>
<rect x="91" y="280" width="8" height="12" fill="#163f2a"/>
<rect x="42" y="592" width="12" height="12" fill="#163f2a"/>
<rect x="64" y="468" width="18" height="8" fill="#163f2a"/>
<rect x="688" y="573" width="8" height="5" fill="#4bb47a" opacity="0.85"/><rect x="749" y="241" width="12" height="5" fill="#1b6b40" opacity="0.85"/><rect x="317" y="356" width="8" height="10" fill="#1b6b40" opacity="0.85"/><rect x="240" y="255" width="8" height="5" fill="#0f2a1c" opacity="0.85"/><rect x="425" y="454" width="6" height="10" fill="#1b6b40" opacity="0.85"/><rect x="312" y="477" width="6" height="10" fill="#4bb47a" opacity="0.85"/><rect x="485" y="452" width="6" height="10" fill="#0f2a1c" opacity="0.85"/><rect x="335" y="390" width="6" height="5" fill="#1b6b40" opacity="0.85"/><rect x="225" y="174" width="16" height="10" fill="#1b6b40" opacity="0.85"/><rect x="631" y="227" width="12" height="7" fill="#123a25" opacity="0.85"/><rect x="314" y="199" width="6" height="5" fill="#1b6b40" opacity="0.85"/><rect x="477" y="145" width="16" height="5" fill="#1b6b40" opacity="0.85"/><rect x="417" y="234" width="8" height="7" fill="#123a25" opacity="0.85"/><rect x="617" y="537" width="6" height="7" fill="#bfe3cf" opacity="0.85"/><rect x="536" y="125" width="6" height="5" fill="#1b6b40" opacity="0.85"/><rect x="374" y="561" width="12" height="7" fill="#0f2a1c" opacity="0.85"/><rect x="620" y="138" width="8" height="5" fill="#bfe3cf" opacity="0.85"/><rect x="602" y="215" width="16" height="10" fill="#4bb47a" opacity="0.85"/><rect x="363" y="218" width="8" height="10" fill="#dff1e6" opacity="0.85"/><rect x="480" y="168" width="16" height="7" fill="#123a25" opacity="0.85"/><rect x="305" y="227" width="6" height="10" fill="#0f2a1c" opacity="0.85"/><rect x="486" y="535" width="16" height="7" fill="#1b6b40" opacity="0.85"/><rect x="757" y="164" width="16" height="10" fill="#bfe3cf" opacity="0.85"/><rect x="300" y="191" width="6" height="5" fill="#123a25" opacity="0.85"/><rect x="500" y="225" width="6" height="5" fill="#0f2a1c" opacity="0.85"/><rect x="513" y="214" width="12" height="5" fill="#0f2a1c" opacity="0.85"/><rect x="686" y="204" width="6" height="5" fill="#4bb47a" opacity="0.85"/><rect x="711" y="211" width="6" height="7" fill="#0f2a1c" opacity="0.85"/><rect x="293" y="199" width="6" height="7" fill="#0f2a1c" opacity="0.85"/><rect x="784" y="214" width="12" height="5" fill="#dff1e6" opacity="0.85"/><rect x="709" y="139" width="6" height="10" fill="#1b6b40" opacity="0.85"/><rect x="616" y="217" width="6" height="5" fill="#4bb47a" opacity="0.85"/><rect x="317" y="394" width="12" height="7" fill="#1b6b40" opacity="0.85"/><rect x="693" y="232" width="6" height="7" fill="#4bb47a" opacity="0.85"/><rect x="314" y="243" width="6" height="7" fill="#123a25" opacity="0.85"/><rect x="722" y="340" width="8" height="10" fill="#dff1e6" opacity="0.85"/><rect x="432" y="421" width="16" height="7" fill="#123a25" opacity="0.85"/><rect x="472" y="542" width="16" height="5" fill="#bfe3cf" opacity="0.85"/><rect x="444" y="447" width="8" height="5" fill="#bfe3cf" opacity="0.85"/><rect x="733" y="209" width="8" height="5" fill="#dff1e6" opacity="0.85"/><rect x="686" y="240" width="16" height="10" fill="#1b6b40" opacity="0.85"/><rect x="757" y="496" width="6" height="5" fill="#dff1e6" opacity="0.85"/><rect x="509" y="356" width="12" height="7" fill="#4bb47a" opacity="0.85"/><rect x="690" y="347" width="8" height="5" fill="#bfe3cf" opacity="0.85"/><rect x="343" y="390" width="8" height="5" fill="#0f2a1c" opacity="0.85"/><rect x="711" y="185" width="6" height="5" fill="#1b6b40" opacity="0.85"/><rect x="456" y="189" width="8" height="5" fill="#1b6b40" opacity="0.85"/><rect x="645" y="401" width="8" height="10" fill="#1b6b40" opacity="0.85"/><rect x="699" y="203" width="6" height="5" fill="#123a25" opacity="0.85"/><rect x="473" y="379" width="12" height="7" fill="#4bb47a" opacity="0.85"/><rect x="241" y="209" width="16" height="7" fill="#0f2a1c" opacity="0.85"/><rect x="788" y="475" width="8" height="5" fill="#0f2a1c" opacity="0.85"/><rect x="664" y="423" width="8" height="7" fill="#123a25" opacity="0.85"/><rect x="729" y="268" width="12" height="10" fill="#1b6b40" opacity="0.85"/><rect x="544" y="441" width="12" height="10" fill="#bfe3cf" opacity="0.85"/><rect x="734" y="171" width="6" height="10" fill="#4bb47a" opacity="0.85"/><rect x="611" y="127" width="16" height="10" fill="#4bb47a" opacity="0.85"/><rect x="349" y="245" width="16" height="7" fill="#0f2a1c" opacity="0.85"/><rect x="638" y="461" width="8" height="7" fill="#1b6b40" opacity="0.85"/><rect x="669" y="603" width="8" height="7" fill="#0f2a1c" opacity="0.85"/><rect x="255" y="186" width="8" height="5" fill="#0f2a1c" opacity="0.85"/><rect x="457" y="480" width="12" height="5" fill="#123a25" opacity="0.85"/><rect x="735" y="146" width="12" height="10" fill="#4bb47a" opacity="0.85"/><rect x="427" y="255" width="16" height="10" fill="#1b6b40" opacity="0.85"/><rect x="388" y="257" width="8" height="10" fill="#4bb47a" opacity="0.85"/><rect x="364" y="179" width="12" height="5" fill="#dff1e6" opacity="0.85"/><rect x="448" y="169" width="8" height="10" fill="#bfe3cf" opacity="0.85"/><rect x="315" y="186" width="16" height="10" fill="#1b6b40" opacity="0.85"/><rect x="354" y="171" width="8" height="10" fill="#0f2a1c" opacity="0.85"/><rect x="591" y="394" width="8" height="5" fill="#4bb47a" opacity="0.85"/><rect x="718" y="147" width="16" height="5" fill="#4bb47a" opacity="0.85"/><rect x="419" y="167" width="8" height="7" fill="#bfe3cf" opacity="0.85"/><rect x="322" y="268" width="16" height="5" fill="#123a25" opacity="0.85"/><rect x="324" y="535" width="12" height="7" fill="#1b6b40" opacity="0.85"/><rect x="440" y="273" width="6" height="5" fill="#123a25" opacity="0.85"/><rect x="410" y="567" width="12" height="7" fill="#123a25" opacity="0.85"/><rect x="424" y="274" width="6" height="7" fill="#4bb47a" opacity="0.85"/><rect x="311" y="281" width="12" height="7" fill="#4bb47a" opacity="0.85"/><rect x="511" y="416" width="12" height="10" fill="#bfe3cf" opacity="0.85"/><rect x="603" y="427" width="8" height="5" fill="#bfe3cf" opacity="0.85"/><rect x="574" y="197" width="12" height="10" fill="#0f2a1c" opacity="0.85"/><rect x="275" y="474" width="8" height="10" fill="#dff1e6" opacity="0.85"/><rect x="640" y="265" width="16" height="10" fill="#1b6b40" opacity="0.85"/><rect x="443" y="150" width="6" height="10" fill="#0f2a1c" opacity="0.85"/><rect x="467" y="562" width="6" height="5" fill="#4bb47a" opacity="0.85"/><rect x="609" y="385" width="12" height="7" fill="#dff1e6" opacity="0.85"/><rect x="788" y="595" width="6" height="10" fill="#4bb47a" opacity="0.85"/><rect x="680" y="285" width="8" height="7" fill="#1b6b40" opacity="0.85"/><rect x="708" y="163" width="16" height="7" fill="#1b6b40" opacity="0.85"/><rect x="516" y="539" width="12" height="7" fill="#dff1e6" opacity="0.85"/><rect x="501" y="480" width="6" height="5" fill="#0f2a1c" opacity="0.85"/><rect x="268" y="415" width="16" height="5" fill="#123a25" opacity="0.85"/><rect x="547" y="360" width="8" height="7" fill="#0f2a1c" opacity="0.85"/><rect x="714" y="184" width="6" height="10" fill="#4bb47a" opacity="0.85"/><rect x="704" y="156" width="16" height="7" fill="#0f2a1c" opacity="0.85"/><rect x="345" y="361" width="8" height="5" fill="#4bb47a" opacity="0.85"/><rect x="597" y="406" width="12" height="10" fill="#1b6b40" opacity="0.85"/><rect x="654" y="213" width="8" height="5" fill="#dff1e6" opacity="0.85"/><rect x="717" y="592" width="12" height="7" fill="#4bb47a" opacity="0.85"/><rect x="503" y="276" width="12" height="5" fill="#123a25" opacity="0.85"/><rect x="419" y="183" width="6" height="10" fill="#123a25" opacity="0.85"/><rect x="287" y="473" width="6" height="10" fill="#1b6b40" opacity="0.85"/><rect x="299" y="142" width="12" height="7" fill="#123a25" opacity="0.85"/><rect x="715" y="442" width="16" height="10" fill="#dff1e6" opacity="0.85"/><rect x="17" y="286" width="10" height="5" fill="#cfe9da" opacity="0.8"/><rect x="56" y="644" width="10" height="5" fill="#cfe9da" opacity="0.8"/><rect x="47" y="367" width="10" height="5" fill="#cfe9da" opacity="0.8"/><rect x="54" y="588" width="10" height="8" fill="#cfe9da" opacity="0.8"/><rect x="10" y="295" width="14" height="8" fill="#12402a" opacity="0.8"/><rect x="104" y="684" width="6" height="5" fill="#cfe9da" opacity="0.8"/><rect x="39" y="428" width="14" height="8" fill="#cfe9da" opacity="0.8"/><rect x="63" y="545" width="6" height="5" fill="#cfe9da" opacity="0.8"/><rect x="45" y="544" width="6" height="8" fill="#cfe9da" opacity="0.8"/><rect x="90" y="661" width="10" height="8" fill="#cfe9da" opacity="0.8"/><rect x="58" y="535" width="10" height="5" fill="#8fd0aa" opacity="0.8"/><rect x="10" y="580" width="6" height="8" fill="#cfe9da" opacity="0.8"/><rect x="86" y="615" width="6" height="8" fill="#12402a" opacity="0.8"/><rect x="102" y="609" width="14" height="5" fill="#8fd0aa" opacity="0.8"/><rect x="22" y="301" width="10" height="5" fill="#12402a" opacity="0.8"/><rect x="28" y="738" width="14" height="5" fill="#cfe9da" opacity="0.8"/><rect x="72" y="512" width="14" height="8" fill="#cfe9da" opacity="0.8"/><rect x="8" y="522" width="10" height="5" fill="#cfe9da" opacity="0.8"/><rect x="35" y="317" width="6" height="5" fill="#cfe9da" opacity="0.8"/><rect x="81" y="357" width="14" height="8" fill="#cfe9da" opacity="0.8"/><rect x="31" y="435" width="14" height="8" fill="#12402a" opacity="0.8"/><rect x="97" y="680" width="10" height="8" fill="#12402a" opacity="0.8"/><rect x="103" y="550" width="10" height="8" fill="#8fd0aa" opacity="0.8"/><rect x="68" y="284" width="10" height="8" fill="#cfe9da" opacity="0.8"/><rect x="109" y="213" width="6" height="8" fill="#12402a" opacity="0.8"/><rect x="69" y="234" width="14" height="5" fill="#cfe9da" opacity="0.8"/><rect x="102" y="322" width="10" height="5" fill="#12402a" opacity="0.8"/><rect x="31" y="376" width="14" height="5" fill="#12402a" opacity="0.8"/><rect x="41" y="419" width="10" height="8" fill="#12402a" opacity="0.8"/><rect x="35" y="270" width="10" height="5" fill="#12402a" opacity="0.8"/><rect x="38" y="369" width="6" height="8" fill="#8fd0aa" opacity="0.8"/><rect x="2" y="702" width="10" height="5" fill="#cfe9da" opacity="0.8"/><rect x="25" y="398" width="6" height="5" fill="#cfe9da" opacity="0.8"/><rect x="76" y="693" width="10" height="5" fill="#8fd0aa" opacity="0.8"/><rect x="114" y="497" width="6" height="8" fill="#12402a" opacity="0.8"/><rect x="80" y="700" width="10" height="8" fill="#cfe9da" opacity="0.8"/><rect x="117" y="560" width="10" height="5" fill="#cfe9da" opacity="0.8"/><rect x="51" y="260" width="6" height="8" fill="#8fd0aa" opacity="0.8"/><rect x="67" y="738" width="6" height="5" fill="#cfe9da" opacity="0.8"/><rect x="114" y="221" width="10" height="8" fill="#12402a" opacity="0.8"/><rect x="101" y="462" width="14" height="5" fill="#12402a" opacity="0.8"/><rect x="53" y="370" width="6" height="8" fill="#cfe9da" opacity="0.8"/><rect x="116" y="738" width="14" height="8" fill="#8fd0aa" opacity="0.8"/><rect x="66" y="264" width="14" height="5" fill="#8fd0aa" opacity="0.8"/><rect x="0" y="419" width="6" height="5" fill="#8fd0aa" opacity="0.8"/><rect x="45" y="486" width="10" height="8" fill="#cfe9da" opacity="0.8"/><rect x="10" y="728" width="6" height="5" fill="#cfe9da" opacity="0.8"/><rect x="53" y="407" width="10" height="5" fill="#cfe9da" opacity="0.8"/><rect x="4" y="633" width="6" height="8" fill="#12402a" opacity="0.8"/><rect x="40" y="528" width="6" height="8" fill="#12402a" opacity="0.8"/><rect x="59" y="278" width="6" height="5" fill="#cfe9da" opacity="0.8"/><rect x="13" y="613" width="14" height="5" fill="#12402a" opacity="0.8"/><rect x="83" y="665" width="10" height="8" fill="#cfe9da" opacity="0.8"/><rect x="30" y="510" width="10" height="5" fill="#cfe9da" opacity="0.8"/><rect x="109" y="421" width="10" height="8" fill="#8fd0aa" opacity="0.8"/><rect x="69" y="515" width="10" height="5" fill="#cfe9da" opacity="0.8"/><rect x="32" y="403" width="10" height="5" fill="#8fd0aa" opacity="0.8"/><rect x="42" y="527" width="14" height="8" fill="#cfe9da" opacity="0.8"/><rect x="92" y="549" width="10" height="5" fill="#12402a" opacity="0.8"/><rect x="13" y="354" width="6" height="5" fill="#cfe9da" opacity="0.8"/>
<rect x="275" y="400" width="50" height="26" fill="#e6eee9"/><rect x="285" y="406" width="14" height="12" fill="#c23"/><rect x="280" y="462" width="46" height="30" fill="#e6eee9"/><rect x="292" y="470" width="20" height="14" fill="#222"/>
<ellipse cx="352" cy="438" rx="16" ry="10" fill="#f2f6f4"/>
</g></g>
<g id="device">
<defs>
<linearGradient id="dfront" x1="0" y1="0" x2="1" y2="0">
<stop offset="0" stop-color="#2c2d30"/><stop offset="0.3" stop-color="#333438"/><stop offset="0.75" stop-color="#3a3b3f"/><stop offset="1" stop-color="#303134"/>
</linearGradient>
<linearGradient id="dside" x1="0" y1="0" x2="1" y2="0">
<stop offset="0" stop-color="#38393d"/><stop offset="0.5" stop-color="#404145"/><stop offset="1" stop-color="#47484c"/>
</linearGradient>
<linearGradient id="dlow" x1="0" y1="0" x2="0" y2="1">
<stop offset="0" stop-color="#000" stop-opacity="0"/><stop offset="1" stop-color="#000" stop-opacity="0.18"/>
</linearGradient>
<radialGradient id="knob" cx="0.4" cy="0.45" r="0.6"><stop offset="0" stop-color="#2a2a2c"/><stop offset="0.7" stop-color="#151516"/><stop offset="1" stop-color="#4a4a4d"/></radialGradient>
<linearGradient id="logo" x1="0" y1="0" x2="0" y2="1"><stop offset="0" stop-color="#eef3fb"/><stop offset="0.5" stop-color="#5b86c8"/><stop offset="1" stop-color="#dfe8f6"/></linearGradient>
</defs>
<path d="M296,731L395,750L419,753.5L470,738L504,722L504,730L420,760L394,757L296,737Z" fill="#9aa7b5" opacity="0.35" filter="url(#b2)"/>
<path d="M419.3,477.5L465.4,488.5L490.6,493.7L495,487.6Q498.5,485 501,485.3L506.2,487.2L504.6,721L503,721.5L503,727L500.5,727L500.5,722.3L470.5,731.5L468.3,737.2L419,752.6Z" fill="url(#dside)"/>
<path d="M396.2,480.6L420,477.45L419.8,752.5L395.4,749Z" fill="#34353a"/>
<path d="M396.2,480.6L399,480.2L398.2,749.4L395.4,749Z" fill="#1f2023"/>
<path d="M432.4,480.7L432.4,748.3" stroke="#2e2f33" stroke-width="0.9"/>
<path d="M465.4,488.5L465.4,738.2" stroke="#2a2b2f" stroke-width="1.1"/>
<path d="M432.4,480.7L465.4,488.5L465.4,738.2L432.4,748.3Z" fill="#3d3e42"/>
<path d="M398,573.4L431.8,573.8" stroke="#26272a" stroke-width="1"/>
<path d="M297.2,493.2Q296.3,493.3 296.3,494.3L294.7,729.2Q294.7,730 295.6,730.2L395.4,749L396.2,480.6L327,486L326.6,489.4Z" fill="url(#dfront)"/>
<path d="M328.5,483.4L396.4,478.3L396.2,481.4L326.8,486.6Z" fill="#48494d"/>
<path d="M326.7,489L326.2,735.8" stroke="#27282b" stroke-width="0.9"/>
<path d="M296.3,494L326.7,489.3L326.2,735.8L294.7,729.8Z" fill="#2d2e31" opacity="0.55"/>
<path d="M295.8,572.6L327,573.3L396,574.2" stroke="#222326" stroke-width="1.1" fill="none"/>
<path d="M295.8,573.8L396,575.4" stroke="#47484c" stroke-width="0.6" fill="none" opacity="0.7"/>
<path d="M295.8,575L396,575.4L395.4,749L294.7,729.8Z" fill="url(#dlow)" opacity="0.5"/>
<path d="M329.6,507.5L385.6,506.4L385.9,567.2L329.9,567.6Z" fill="#26272a"/>
<path d="M328.2,567.6L387.5,567.1L388.3,572.2L327.3,572.6Z" fill="#404145"/>
<rect x="331.9" y="511.4" width="50.4" height="50.8" fill="#2b2c30" stroke="#a9abae" stroke-width="0.7"/>
<rect x="335.2" y="516.4" width="27" height="15.5" fill="#1d1e20"/>
<rect x="335.6" y="524.2" width="25.6" height="6.6" fill="#121313"/>
<path d="M337,519.2h4M343.5,519.2h3M349,519.2h3" stroke="#c9c9c9" stroke-width="0.8"/>
<circle cx="372.3" cy="522.6" r="6.3" fill="url(#knob)"/>
<circle cx="371.2" cy="522.4" r="4.3" fill="#19191a"/>
<rect x="335.7" y="537.0" width="9.3" height="10.0" rx="1" fill="#d6d7d9"/>
<rect x="346.3" y="537.0" width="9.4" height="10.0" rx="1" fill="#d6d7d9"/>
<rect x="357.1" y="537.0" width="9.6" height="10.0" rx="1" fill="#d6d7d9"/>
<rect x="368.0" y="537.0" width="10.0" height="10.0" rx="1" fill="#3f9a3a"/>
<rect x="335.7" y="548.6" width="9.3" height="10.3" rx="1" fill="#d6d7d9"/>
<rect x="346.3" y="548.6" width="9.4" height="10.3" rx="1" fill="#d6d7d9"/>
<rect x="357.1" y="548.6" width="9.6" height="10.3" rx="1" fill="#d6d7d9"/>
<rect x="368.0" y="548.6" width="10.0" height="10.3" rx="1" fill="#d22f36"/>
<path d="M361.9,539.2l2.6,4.6h-5.2z M361.9,556.6l2.6,-4.6h-5.2z M349,551.3l4.4,2.5l-4.4,2.5z" fill="#2a2a2a"/>
<rect x="337.2" y="541" width="6.2" height="1.6" fill="#777"/>
<rect x="347.6" y="541" width="6.8" height="1.6" fill="#777"/>
<rect x="337.4" y="552.8" width="5.8" height="1.6" fill="#777"/>
<rect x="369.8" y="541" width="6.4" height="1.7" fill="#dff2dc"/>
<rect x="369.4" y="552.8" width="7.2" height="1.7" fill="#fbe3e3"/>
<rect x="385.8" y="528.2" width="9.6" height="13.4" fill="#1e1f21"/>
<path d="M386,530.5h9M386,532.8h9M386,535.1h9M386,537.4h9M386,539.7h9" stroke="#34353a" stroke-width="0.7"/>
<ellipse cx="356.7" cy="498.2" rx="10.6" ry="6.7" fill="#c9d3e3"/>
<ellipse cx="356.7" cy="498.2" rx="9.6" ry="5.7" fill="url(#logo)"/>
<rect x="349.6" y="496.9" width="14.2" height="2.4" rx="1" fill="#f3f6fb" opacity="0.9"/>
<rect x="348" y="584" width="24" height="8" fill="#c9cacc"/>
<rect x="351" y="587" width="18" height="2" fill="#55565a"/>
<path d="M359.8,715.6L365.4,727.2L354.3,727.2Z" fill="#e8b413" stroke="#e8b413" stroke-width="1" stroke-linejoin="round"/>
<path d="M360.4,718.6l-1.8,4.2h1.6l-0.9,3.4l2.6,-4.4h-1.6l1,-3.2z" fill="#2a2412"/>
<path d="M441.6,498.0L448.2,499.5L448.2,503.7L441.6,502.2Z M449.8,499.9L456.4,501.4L456.4,505.6L449.8,504.1Z" fill="#0f1011"/>
<path d="M441.6,504.5L448.2,506.0L448.2,510.2L441.6,508.7Z M449.8,506.4L456.4,507.9L456.4,512.1L449.8,510.6Z" fill="#0f1011"/>
<path d="M441.6,511.0L448.2,512.5L448.2,516.7L441.6,515.2Z M449.8,512.9L456.4,514.4L456.4,518.6L449.8,517.1Z" fill="#0f1011"/>
<path d="M441.6,517.6L448.2,519.1L448.2,523.3L441.6,521.8Z M449.8,519.5L456.4,521.0L456.4,525.2L449.8,523.7Z" fill="#0f1011"/>
<path d="M441.6,524.1L448.2,525.6L448.2,529.8L441.6,528.3Z M449.8,526.0L456.4,527.5L456.4,531.7L449.8,530.2Z" fill="#0f1011"/>
<path d="M441.6,530.6L448.2,532.1L448.2,536.3L441.6,534.8Z M449.8,532.5L456.4,534.0L456.4,538.2L449.8,536.7Z" fill="#0f1011"/>
<path d="M441.6,537.1L448.2,538.6L448.2,542.8L441.6,541.3Z M449.8,539.0L456.4,540.5L456.4,544.7L449.8,543.2Z" fill="#0f1011"/>
<path d="M441.6,543.6L448.2,545.1L448.2,549.3L441.6,547.8Z M449.8,545.5L456.4,547.0L456.4,551.2L449.8,549.7Z" fill="#0f1011"/>
<path d="M441.6,550.2L448.2,551.7L448.2,555.9L441.6,554.4Z M449.8,552.1L456.4,553.6L456.4,557.8L449.8,556.3Z" fill="#0f1011"/>
<path d="M441.6,556.7L448.2,558.2L448.2,562.4L441.6,560.9Z M449.8,558.6L456.4,560.1L456.4,564.3L449.8,562.8Z" fill="#0f1011"/>
<path d="M441.6,563.2L448.2,564.7L448.2,568.9L441.6,567.4Z M449.8,565.1L456.4,566.6L456.4,570.8L449.8,569.3Z" fill="#0f1011"/>
<path d="M441.6,569.7L448.2,571.2L448.2,575.4L441.6,573.9Z M449.8,571.6L456.4,573.1L456.4,577.3L449.8,575.8Z" fill="#0f1011"/>
<path d="M441.6,576.2L448.2,577.7L448.2,581.9L441.6,580.4Z M449.8,578.1L456.4,579.6L456.4,583.8L449.8,582.3Z" fill="#0f1011"/>
<path d="M441.6,582.8L448.2,584.3L448.2,588.5L441.6,587.0Z M449.8,584.7L456.4,586.2L456.4,590.4L449.8,588.9Z" fill="#0f1011"/>
<path d="M441.6,589.3L448.2,590.8L448.2,595.0L441.6,593.5Z M449.8,591.2L456.4,592.7L456.4,596.9L449.8,595.4Z" fill="#0f1011"/>
<path d="M441.6,595.8L448.2,597.3L448.2,601.5L441.6,600.0Z M449.8,597.7L456.4,599.2L456.4,603.4L449.8,601.9Z" fill="#0f1011"/>
<path d="M441.6,602.3L448.2,603.8L448.2,608.0L441.6,606.5Z M449.8,604.2L456.4,605.7L456.4,609.9L449.8,608.4Z" fill="#0f1011"/>
<path d="M441.6,608.8L448.2,610.3L448.2,614.5L441.6,613.0Z M449.8,610.7L456.4,612.2L456.4,616.4L449.8,614.9Z" fill="#0f1011"/>
<path d="M441.6,615.4L448.2,616.9L448.2,621.1L441.6,619.6Z M449.8,617.3L456.4,618.8L456.4,623.0L449.8,621.5Z" fill="#0f1011"/>
<path d="M441.6,621.9L448.2,623.4L448.2,627.6L441.6,626.1Z M449.8,623.8L456.4,625.3L456.4,629.5L449.8,628.0Z" fill="#0f1011"/>
<path d="M448,665.3L455,664.9L455,669.2L448,669.6Z" fill="#0f1011"/>
<path d="M448,671.8L455,671.4L455,675.6L448,676.0Z" fill="#0f1011"/>
<path d="M448,678.2L455,677.8L455,682.1L448,682.5Z" fill="#0f1011"/>
<path d="M448,684.7L455,684.3L455,688.6L448,689.0Z" fill="#0f1011"/>
<path d="M448,691.1L455,690.7L455,695.0L448,695.4Z" fill="#0f1011"/>
<path d="M448,697.6L455,697.2L455,701.5L448,701.9Z" fill="#0f1011"/>
<path d="M448,704.0L455,703.6L455,707.9L448,708.3Z" fill="#0f1011"/>
<path d="M448,710.5L455,710.1L455,714.4L448,714.8Z" fill="#0f1011"/>
<path d="M448,716.9L455,716.5L455,720.8L448,721.2Z" fill="#0f1011"/>
<path d="M448,723.4L455,723.0L455,727.3L448,727.7Z" fill="#0f1011"/>
<rect x="460.1" y="530" width="2" height="11.5" fill="#17181a"/>
<rect x="465.6" y="529" width="3" height="14.5" fill="#33343a"/>
<rect x="436.7" y="545.8" width="2.6" height="14.8" fill="#17181a"/>
<rect x="458.2" y="684" width="2" height="11.5" fill="#17181a"/>
<rect x="464" y="681" width="3.2" height="15" fill="#2f3035"/>
<rect x="436.3" y="711.5" width="2.8" height="15" fill="#131415"/>
<path d="M469.5,683.6L502.5,680.6L502.5,698.6L469.5,701.2Z" fill="#37383c"/>
<path d="M480.8,684L480.8,700M491.6,683L491.6,699" stroke="#2b2c2f" stroke-width="0.8"/>
<path d="M471.0,641.3L480.5,640.7L480.5,646.9L471.0,647.5Z" fill="#0e0f10"/>
<path d="M482.4,640.6L491.1,640.0L491.1,646.2L482.4,646.8Z" fill="#0e0f10"/>
<path d="M492.8,639.9L501.0,639.3L501.0,645.5L492.8,646.1Z" fill="#0e0f10"/>
<path d="M471.0,650.0L480.5,649.4L480.5,655.6L471.0,656.2Z" fill="#0e0f10"/>
<path d="M482.4,649.3L491.1,648.7L491.1,654.9L482.4,655.5Z" fill="#0e0f10"/>
<path d="M492.8,648.6L501.0,648.0L501.0,654.2L492.8,654.8Z" fill="#0e0f10"/>
<path d="M471.0,658.4L480.5,657.8L480.5,664.0L471.0,664.6Z" fill="#0e0f10"/>
<path d="M482.4,657.7L491.1,657.1L491.1,663.3L482.4,663.9Z" fill="#0e0f10"/>
<path d="M492.8,657.0L501.0,656.4L501.0,662.6L492.8,663.2Z" fill="#0e0f10"/>
<path d="M471.0,667.0L480.5,666.4L480.5,672.6L471.0,673.2Z" fill="#0e0f10"/>
<path d="M482.4,666.3L491.1,665.7L491.1,671.9L482.4,672.5Z" fill="#0e0f10"/>
<path d="M492.8,665.6L501.0,665.0L501.0,671.2L492.8,671.8Z" fill="#0e0f10"/>
<path d="M471.0,675.7L480.5,675.1L480.5,681.3L471.0,681.9Z" fill="#0e0f10"/>
<path d="M482.4,675.0L491.1,674.4L491.1,680.6L482.4,681.2Z" fill="#0e0f10"/>
<path d="M492.8,674.3L501.0,673.7L501.0,679.9L492.8,680.5Z" fill="#0e0f10"/>
<path d="M471.0,701.6L480.5,701.0L480.5,707.2L471.0,707.8Z" fill="#0e0f10"/>
<path d="M482.4,700.9L491.1,700.3L491.1,706.5L482.4,707.1Z" fill="#0e0f10"/>
<path d="M492.8,700.2L501.0,699.6L501.0,705.8L492.8,706.4Z" fill="#0e0f10"/>
<path d="M471.0,710.2L480.5,709.6L480.5,715.8L471.0,716.4Z" fill="#0e0f10"/>
<path d="M482.4,709.5L491.1,708.9L491.1,715.1L482.4,715.7Z" fill="#0e0f10"/>
<path d="M492.8,708.8L501.0,708.2L501.0,714.4L492.8,715.0Z" fill="#0e0f10"/>
<path d="M473.2,565L490.2,566.4L490.2,626.8L473.2,626.2Z" fill="#cfd0d2"/>
<path d="M475,570.5L486.0,571.3" stroke="#6d6e72" stroke-width="0.9"/>
<path d="M475,575.1L487.0,575.9" stroke="#6d6e72" stroke-width="0.9"/>
<path d="M475,579.7L488.0,580.5" stroke="#6d6e72" stroke-width="0.9"/>
<path d="M475,584.3L486.0,585.1" stroke="#6d6e72" stroke-width="0.9"/>
<path d="M475,588.9L487.0,589.7" stroke="#6d6e72" stroke-width="0.9"/>
<path d="M475,593.5L488.0,594.3" stroke="#6d6e72" stroke-width="0.9"/>
<path d="M475,598.1L486.0,598.9" stroke="#6d6e72" stroke-width="0.9"/>
<path d="M475,602.7L487.0,603.5" stroke="#6d6e72" stroke-width="0.9"/>
<path d="M475,607.3L488.0,608.1" stroke="#6d6e72" stroke-width="0.9"/>
<rect x="476" y="612" width="11.5" height="4" fill="#8a8b8f"/>
<rect x="475" y="619" width="3" height="4" fill="none" stroke="#6d7fb0" stroke-width="0.6"/><rect x="484" y="619.5" width="3.6" height="4" fill="none" stroke="#6d7fb0" stroke-width="0.6"/>
<path d="M470.5,731.5L472,726L500.5,718.2L500.5,722.3Z" fill="#222326"/>
<path d="M490.6,493.7L495,487.6Q498.5,485 501,485.3L497.5,489.8L494.2,494.4Z" fill="#55565a"/>
</g>
<text class="ttl" x="177.2" y="102.9" textLength="435.0" lengthAdjust="spacingAndGlyphs" font-size="44">Product Important Parts</text>
<text class="lbl" x="331.9" y="181.6" textLength="149.7" lengthAdjust="spacingAndGlyphs">Standard RS485</text>
<text class="lbl" x="52.0" y="239.1" textLength="213.0" lengthAdjust="spacingAndGlyphs">1 or 2 Cooling fans are</text>
<text class="lbl" x="53.8" y="267" textLength="208.2" lengthAdjust="spacingAndGlyphs">standard for T510 VFD</text>
<text class="lbl" x="552.0" y="239.1" textLength="221.1" lengthAdjust="spacingAndGlyphs">The detachable panel,</text>
<text class="lbl" x="584.4" y="267" textLength="156.6" lengthAdjust="spacingAndGlyphs">Free data cable</text>
<text class="lbl" x="24.9" y="565.5" textLength="171.9" lengthAdjust="spacingAndGlyphs">Loading capacity</text>
<text class="lbl" x="63.1" y="587.5" textLength="94.4" lengthAdjust="spacingAndGlyphs">is stronger</text>
<text class="lbl" x="41.9" y="610.75" textLength="134.2" lengthAdjust="spacingAndGlyphs">Better stability.</text>
<text class="lbl" x="605.7" y="568.3" textLength="172.6" lengthAdjust="spacingAndGlyphs">Circuit boards are</text>
<text class="lbl" x="631.4" y="590.7" textLength="119.8" lengthAdjust="spacingAndGlyphs">original new,</text>
<text class="lbl" x="599.9" y="613.5" textLength="183.7" lengthAdjust="spacingAndGlyphs">refused refurbished</text>
<text class="lbl" x="647.1" y="635.8" textLength="89.2" lengthAdjust="spacingAndGlyphs">and used</text>
</svg></body></html>
